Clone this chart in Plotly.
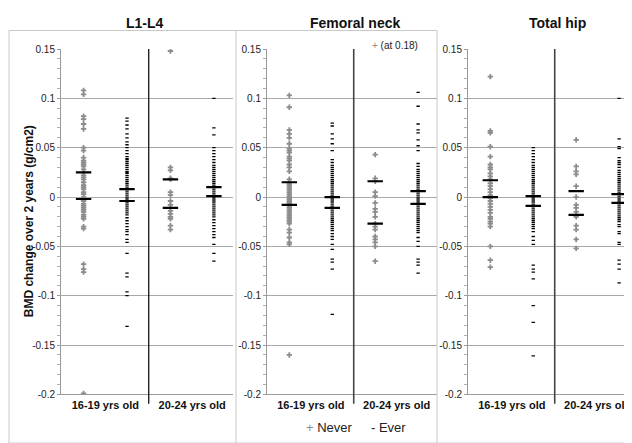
import plotly.graph_objects as go

# ---------------- data ----------------
panels = ["L1-L4", "Femoral neck", "Total hip"]
age_groups = ["16-19 yrs old", "20-24 yrs old"]

# L1-L4
l1_g1_never = [0.108, 0.104, 0.082, 0.079, 0.074, 0.069, 0.050, 0.047, 0.040, 0.037, 0.035, 0.033, 0.031, 0.028,
               0.025, 0.022, 0.020, 0.018, 0.015, 0.012, 0.010, 0.008, 0.005, 0.003, 0.000, -0.002, -0.004, -0.007,
               -0.009, -0.011, -0.013, -0.015, -0.018, -0.020, -0.022, -0.030, -0.032, -0.068, -0.073, -0.076, -0.199]
l1_g1_ever = [0.080, 0.077, 0.073, 0.069, 0.064, 0.060, 0.056, 0.053, 0.050, 0.047, 0.044, 0.041, 0.039, 0.038,
              0.036, 0.034, 0.032, 0.030, 0.028, 0.026, 0.025, 0.024, 0.022, 0.020, 0.018, 0.016, 0.014, 0.012,
              0.010, 0.008, 0.006, 0.004, 0.002, 0.000, -0.002, -0.004, -0.006, -0.008, -0.010, -0.012, -0.014,
              -0.016, -0.018, -0.021, -0.024, -0.027, -0.030, -0.033, -0.035, -0.038, -0.043, -0.046, -0.057,
              -0.077, -0.081, -0.096, -0.100, -0.131]
l1_g2_never = [0.148, 0.030, 0.027, 0.019, 0.018, 0.005, 0.002, -0.004, -0.008, -0.011, -0.014, -0.017, -0.020,
               -0.022, -0.029, -0.033]
l1_g2_ever = [0.100, 0.070, 0.063, 0.050, 0.047, 0.044, 0.041, 0.038, 0.035, 0.032, 0.030, 0.028, 0.026, 0.024,
              0.022, 0.020, 0.018, 0.016, 0.014, 0.012, 0.010, 0.008, 0.006, 0.004, 0.002, 0.000, -0.002, -0.004,
              -0.006, -0.008, -0.010, -0.012, -0.014, -0.016, -0.018, -0.020, -0.023, -0.026, -0.029, -0.032,
              -0.035, -0.038, -0.041, -0.048, -0.057, -0.065]

# Femoral neck
fn_g1_never = [0.103, 0.091, 0.068, 0.064, 0.060, 0.054, 0.049, 0.047, 0.045, 0.041, 0.039, 0.037, 0.033, 0.030,
               0.026, 0.018, 0.015, 0.013, 0.011, 0.009, 0.007, 0.005, 0.003, 0.001, -0.001, -0.003, -0.005, -0.007,
               -0.009, -0.011, -0.013, -0.015, -0.017, -0.019, -0.021, -0.023, -0.025, -0.027, -0.033, -0.036,
               -0.041, -0.046, -0.048, -0.160]
fn_g1_ever = [0.075, 0.072, 0.064, 0.059, 0.054, 0.047, 0.038, 0.035, 0.032, 0.030, 0.028, 0.026, 0.024, 0.022,
              0.020, 0.018, 0.016, 0.014, 0.012, 0.010, 0.008, 0.006, 0.004, 0.002, 0.000, -0.002, -0.004, -0.006,
              -0.008, -0.010, -0.012, -0.014, -0.016, -0.018, -0.020, -0.022, -0.024, -0.026, -0.028, -0.030,
              -0.032, -0.034, -0.037, -0.040, -0.043, -0.048, -0.053, -0.063, -0.066, -0.073, -0.119]
fn_g2_never = [0.043, 0.019, 0.016, 0.005, 0.001, -0.006, -0.012, -0.015, -0.020, -0.027, -0.030, -0.033, -0.040,
               -0.043, -0.046, -0.050, -0.065]
fn_g2_ever = [0.106, 0.092, 0.074, 0.068, 0.065, 0.058, 0.052, 0.047, 0.034, 0.031, 0.028, 0.026, 0.024, 0.022,
              0.020, 0.018, 0.016, 0.014, 0.012, 0.010, 0.008, 0.006, 0.004, 0.002, 0.000, -0.002, -0.004, -0.006,
              -0.008, -0.010, -0.012, -0.014, -0.016, -0.018, -0.020, -0.022, -0.024, -0.026, -0.028, -0.030,
              -0.032, -0.034, -0.036, -0.041, -0.045, -0.050, -0.063, -0.066, -0.069, -0.077]
fn_offscale_label = "(at 0.18)"

# Total hip
th_g1_never = [0.122, 0.067, 0.065, 0.051, 0.041, 0.033, 0.030, 0.028, 0.024, 0.021, 0.018, 0.014, 0.011, 0.008,
               0.005, 0.002, 0.000, -0.001, -0.004, -0.007, -0.010, -0.013, -0.016, -0.020, -0.022, -0.025, -0.027,
               -0.030, -0.050, -0.064, -0.071]
th_g1_ever = [0.050, 0.047, 0.044, 0.041, 0.038, 0.035, 0.032, 0.030, 0.028, 0.026, 0.024, 0.022, 0.020, 0.018,
              0.016, 0.014, 0.012, 0.010, 0.008, 0.006, 0.004, 0.002, 0.000, -0.002, -0.004, -0.006, -0.008, -0.010,
              -0.012, -0.014, -0.016, -0.018, -0.020, -0.022, -0.024, -0.026, -0.028, -0.030, -0.032, -0.035,
              -0.040, -0.044, -0.048, -0.069, -0.073, -0.076, -0.083, -0.110, -0.127, -0.161]
th_g2_never = [0.058, 0.031, 0.026, 0.023, 0.011, 0.000, -0.008, -0.011, -0.015, -0.018, -0.020, -0.029, -0.033,
               -0.043, -0.052]
th_g2_ever = [0.100, 0.059, 0.051, 0.049, 0.040, 0.037, 0.035, 0.033, 0.030, 0.027, 0.025, 0.023, 0.021, 0.019,
              0.017, 0.015, 0.013, 0.011, 0.009, 0.007, 0.005, 0.003, 0.001, -0.001, -0.003, -0.005, -0.007, -0.009,
              -0.011, -0.013, -0.015, -0.017, -0.019, -0.021, -0.023, -0.025, -0.028, -0.030, -0.035, -0.037,
              -0.046, -0.048, -0.064, -0.068, -0.073, -0.087]

# summary bars (upper, lower) per column: [g1 never, g1 ever, g2 never, g2 ever]
l1_bar_hi = [0.025, 0.008, 0.018, 0.010]
l1_bar_lo = [-0.002, -0.004, -0.011, 0.001]
fn_bar_hi = [0.015, 0.000, 0.016, 0.006]
fn_bar_lo = [-0.008, -0.011, -0.027, -0.007]
th_bar_hi = [0.017, 0.001, 0.006, 0.003]
th_bar_lo = [0.000, -0.009, -0.018, -0.006]

y_tickvals = [0.15, 0.1, 0.05, 0, -0.05, -0.1, -0.15, -0.2]
y_ticktext = ["0.15", "0.1", "0.05", "0", "-0.05", "-0.1", "-0.15", "-0.2"]

panel_points = [
    [l1_g1_never, l1_g1_ever, l1_g2_never, l1_g2_ever],
    [fn_g1_never, fn_g1_ever, fn_g2_never, fn_g2_ever],
    [th_g1_never, th_g1_ever, th_g2_never, th_g2_ever],
]
panel_bars = [(l1_bar_hi, l1_bar_lo), (fn_bar_hi, fn_bar_lo), (th_bar_hi, th_bar_lo)]

# ---------------- layout geometry ----------------
W, H = 632, 443
x_domains = [(53 / W, 225 / W), (259 / W, 429 / W), (460 / W, 630 / W)]
y_domain = (1 - 391 / H, 1 - 36 / H)
col_pos = [-0.25, 0.25, 0.75, 1.25]   # never/ever positions around group centres 0 and 1
FONT = "Liberation Sans, Arial, sans-serif"
NEVER_COLOR = "#8c8c8c"

fig = go.Figure()

for i in range(3):
    sfx = "" if i == 0 else str(i + 1)
    xa, ya = "x" + sfx, "y" + sfx
    for c, vals in enumerate(panel_points[i]):
        never = c % 2 == 0
        fig.add_trace(go.Scatter(
            x=[col_pos[c]] * len(vals), y=vals, mode="markers", xaxis=xa, yaxis=ya,
            showlegend=False, cliponaxis=True,
            marker=dict(symbol="cross", size=4.5, color=NEVER_COLOR, line=dict(width=0)) if never else
            dict(symbol="line-ew", size=2.4, color="#000", line=dict(width=1.3, color="#000")),
        ))
    hi, lo = panel_bars[i]
    fig.add_trace(go.Scatter(
        x=col_pos + col_pos, y=hi + lo, mode="markers", xaxis=xa, yaxis=ya, showlegend=False,
        marker=dict(symbol="line-ew", size=11, line=dict(width=2.2, color="#000")),
    ))
    # separating vertical line between age groups
    fig.add_shape(type="line", xref=xa, yref=ya + " domain", x0=0.5, x1=0.5, y0=-0.027, y1=1,
                  line=dict(color="#000" if i == 0 else "#444", width=1.2 if i == 0 else 1.6))

    fig.layout["xaxis" + sfx] = dict(
        domain=list(x_domains[i]), anchor=ya, range=[-0.51, 1.47],
        tickvals=[0, 1], ticktext=age_groups, ticks="", showgrid=False, zeroline=False,
        showline=True, linecolor="#9a9a9a", linewidth=1,
        tickfont=dict(family=FONT, size=11, color="#111", weight="bold"),
    )
    fig.layout["yaxis" + sfx] = dict(
        domain=list(y_domain), anchor=xa, range=[-0.2, 0.15],
        tickvals=y_tickvals, ticktext=y_ticktext, ticks="outside", ticklen=3, tickcolor="#9a9a9a",
        showgrid=True, gridcolor="#a8a8a8", gridwidth=1, zeroline=False,
        showline=True, linecolor="#9a9a9a", linewidth=1,
        minor=dict(dtick=0.01, ticks="outside", ticklen=3, tickcolor="#b0b0b0", showgrid=False),
        tickfont=dict(family=FONT, size=10, color="#222"),
    )

    title_x = [137 / W, 347 / W, 549 / W][i]
    fig.add_annotation(text="<b>%s</b>" % panels[i], xref="paper", yref="paper", x=title_x, y=1 - 9 / H,
                       showarrow=False, font=dict(family=FONT, size=14, color="#111"), xanchor="center",
                       yanchor="middle")

# panel borders
border = "#c8c8c8"
for px in [1, 228, 429]:
    fig.add_shape(type="line", xref="paper", yref="paper", x0=px / W, x1=px / W, y0=1 - 441 / H, y1=1 - 17 / H,
                  line=dict(color=border, width=1))
fig.add_shape(type="line", xref="paper", yref="paper", x0=1 / W, x1=429 / W, y0=1 - 17 / H, y1=1 - 17 / H,
              line=dict(color=border, width=1))
fig.add_shape(type="line", xref="paper", yref="paper", x0=1 / W, x1=631 / W, y0=1 - 441 / H, y1=1 - 441 / H,
              line=dict(color=border, width=1))

# y-axis title
fig.add_annotation(text="<b>BMD change over 2 years (g/cm2)</b>", xref="paper", yref="paper",
                   x=12 / W, y=1 - 213 / H, textangle=-90, showarrow=False,
                   font=dict(family=FONT, size=12, color="#111"))

# off-scale point note
fig.add_annotation(text="<span style='color:%s'>+</span> %s" % (NEVER_COLOR, fn_offscale_label),
                   xref="paper", yref="paper", x=362 / W, y=1 - 25 / H, xanchor="left", showarrow=False,
                   font=dict(family=FONT, size=10, color="#222"))

# legend
fig.add_annotation(text="<span style='color:%s'>+</span> Never" % NEVER_COLOR, xref="paper", yref="paper",
                   x=297 / W, y=1 - 425 / H, xanchor="left", yanchor="middle", showarrow=False, borderpad=0,
                   font=dict(family=FONT, size=13, color="#222"))
fig.add_annotation(text="- Ever", xref="paper", yref="paper",
                   x=362 / W, y=1 - 425 / H, xanchor="left", yanchor="middle", showarrow=False, borderpad=0,
                   font=dict(family=FONT, size=13, color="#222"))

fig.update_layout(
    width=W, height=H, margin=dict(l=0, r=0, t=0, b=0),
    paper_bgcolor="white", plot_bgcolor="white", showlegend=False,
)

fig.write_html("out.html")
